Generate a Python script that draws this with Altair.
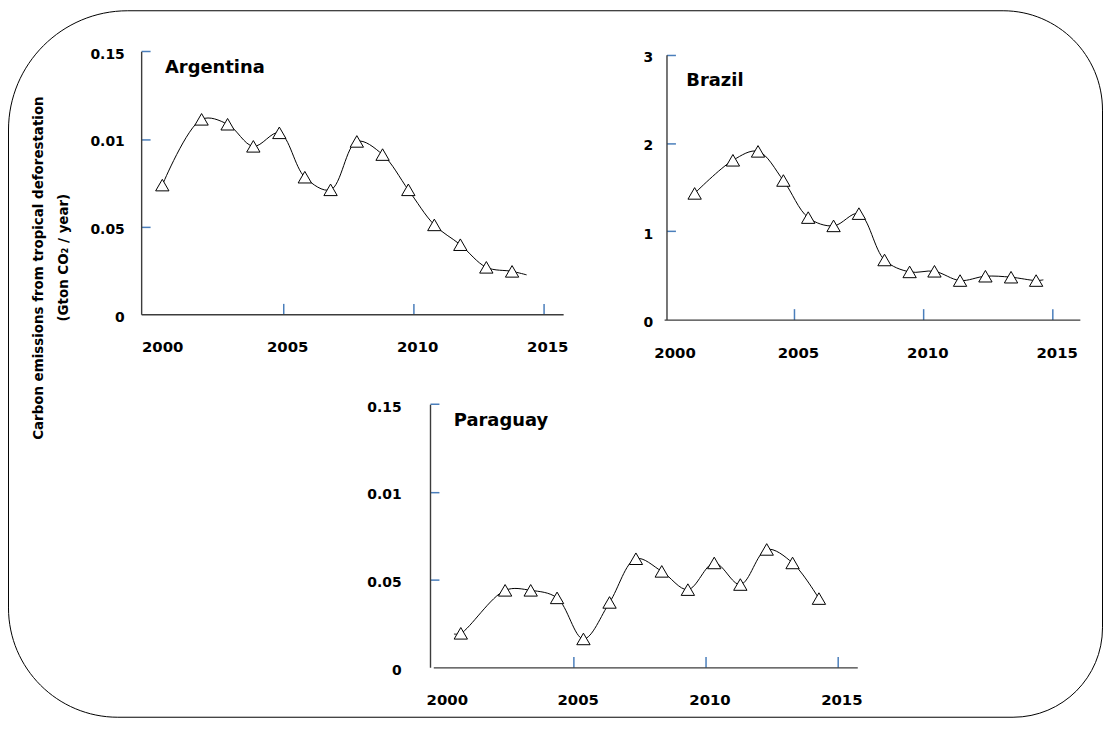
import altair as alt
import pandas as pd

# ---------------- data ----------------
ARG_YEARS = [2000.35, 2001.86, 2002.86, 2003.85, 2004.85, 2005.83, 2006.82,
             2007.83, 2008.82, 2009.81, 2010.81, 2011.81, 2012.81, 2013.80]
ARG_VALUES = [0.0737, 0.1112, 0.1084, 0.0958, 0.1035, 0.0782, 0.0710,
              0.0986, 0.0911, 0.0710, 0.0510, 0.0397, 0.0268, 0.0245]
ARG_LINE_END = (2014.36, 0.0225)

BRA_YEARS = [2001.16, 2002.64, 2003.61, 2004.59, 2005.55, 2006.53, 2007.51,
             2008.50, 2009.47, 2010.43, 2011.42, 2012.40, 2013.39, 2014.36]
BRA_VALUES = [1.429, 1.804, 1.905, 1.575, 1.155, 1.061, 1.200,
              0.675, 0.540, 0.547, 0.442, 0.491, 0.480, 0.442]
BRA_LINE_END = (2014.64, 0.450)

PAR_YEARS = [2000.72, 2002.40, 2003.37, 2004.37, 2005.37, 2006.36, 2007.36,
             2008.34, 2009.33, 2010.33, 2011.32, 2012.32, 2013.30, 2014.30]
PAR_VALUES = [0.0194, 0.0439, 0.0439, 0.0396, 0.0162, 0.0370, 0.0619,
              0.0547, 0.0443, 0.0595, 0.0472, 0.0672, 0.0595, 0.0392]
PAR_LINE_START = (2000.46, 0.0190)

X_TICKS = [2000, 2005, 2010, 2015]
X_LABELS = ["2000", "2005", "2010", "2015"]
SMALL_Y_TICKS = [0, 0.05, 0.1, 0.15]
SMALL_Y_LABELS = ["0", "0.05", "0.01", "0.15"]
BRA_Y_TICKS = [0, 1, 2, 3]
BRA_Y_LABELS = ["0", "1", "2", "3"]

TITLES = ["Argentina", "Brazil", "Paraguay"]
Y_TITLE_1 = "Carbon emissions from tropical deforestation"
Y_TITLE_2 = "(Gton CO\u2082 / year)"

# ---------------- styling ----------------
W, H = 1102, 712
FONT = "DejaVu Sans"
TITLE_FONT = "Liberation Sans Narrow, DejaVu Sans Condensed, Lato, sans-serif"
TICK_BLUE = "#4a7ebb"
AXIS_GRAY = "#3c3c3c"


def label_expr(values, labels):
    expr = "datum.label"
    for v, l in zip(values, labels):
        expr = f"datum.value == {v} ? '{l}' : ({expr})"
    return expr


def x_axis(offset, pad, off_first, off_other):
    return alt.Axis(
        orient="top", offset=offset, values=X_TICKS,
        labelExpr=label_expr(X_TICKS, X_LABELS),
        tickColor={"condition": {"test": f"datum.value == {X_TICKS[0]}", "value": "transparent"},
                   "value": TICK_BLUE},
        tickSize=11, tickWidth=1.5,
        domainColor=AXIS_GRAY, domainWidth=1.4,
        labelFont=FONT, labelFontSize=15, labelFontWeight="bold", labelColor="black",
        labelBaseline="middle", labelAlign="center", labelPadding=pad,
        labelOffset={"condition": {"test": f"datum.value == {X_TICKS[0]}", "value": off_first},
                     "value": off_other},
        labelFlush=False, labelOverlap=False, grid=False, title=None,
    )


def y_axis(offset, pad, values, labels):
    return alt.Axis(
        orient="right", offset=offset, values=values,
        labelExpr=label_expr(values, labels),
        tickColor={"condition": {"test": "datum.value == 0", "value": "transparent"},
                   "value": TICK_BLUE},
        tickSize=9, tickWidth=1.5,
        domainColor=AXIS_GRAY, domainWidth=1.4,
        labelFont=FONT, labelFontSize=14, labelFontWeight="bold", labelColor="black",
        labelBaseline="middle", labelAlign="right", labelPadding=pad, labelOffset=3,
        labelFlush=False, labelOverlap=False, grid=False, title=None,
    )


def panel(years, values, line_years, line_values, xdom, xrange, ydom, yrange,
          xaxis, yaxis, title, tx, ty):
    pts = pd.DataFrame({"year": years, "value": values})
    ln = pd.DataFrame({"year": line_years, "value": line_values})
    x = alt.X("year:Q", scale=alt.Scale(domain=xdom, range=xrange, nice=False, zero=False), axis=xaxis)
    y = alt.Y("value:Q", scale=alt.Scale(domain=ydom, range=yrange, nice=False, zero=False), axis=yaxis)
    line = alt.Chart(ln).mark_line(interpolate="catmull-rom", color="black", strokeWidth=1).encode(x=x, y=y)
    marks = alt.Chart(pts).mark_point(shape="triangle-up", size=180, filled=True, fill="white",
                                      stroke="black", strokeWidth=1, opacity=1).encode(x=x, y=y)
    label = alt.Chart(pd.DataFrame({"t": [title]})).mark_text(
        font=FONT, fontSize=18, fontWeight="bold", color="black", align="left", baseline="alphabetic"
    ).encode(text="t:N", x=alt.value(tx), y=alt.value(ty))
    return alt.layer(line, marks, label)


arg = panel(ARG_YEARS, ARG_VALUES, ARG_YEARS + [ARG_LINE_END[0]], ARG_VALUES + [ARG_LINE_END[1]],
            [1999.536, 2015.764], [134, 558.7], [0, 0.15], [306, 41.3],
            x_axis(-306, -43, 9, 4), y_axis(134 - W, -26, SMALL_Y_TICKS, SMALL_Y_LABELS),
            TITLES[0], 158, 62.7)

bra = panel(BRA_YEARS, BRA_VALUES, BRA_YEARS + [BRA_LINE_END[0]], BRA_VALUES + [BRA_LINE_END[1]],
            [1999.98, 2016.05], [660.3, 1078.7], [0, 3], [311.3, 44.7],
            x_axis(-311.3, -44, 10, 4), y_axis(662.7 - W, -23, BRA_Y_TICKS, BRA_Y_LABELS),
            TITLES[1], 682.7, 76)

par = panel(PAR_YEARS, PAR_VALUES, [PAR_LINE_START[0]] + PAR_YEARS, [PAR_LINE_START[1]] + PAR_VALUES,
            [1999.676, 2015.754], [428, 854.7], [0, 0.15], [661.3, 396.4],
            x_axis(-661.3, -43, 5, 4), y_axis(424.7 - W, -38, SMALL_Y_TICKS, SMALL_Y_LABELS),
            TITLES[2], 448.7, 418.7)

one = pd.DataFrame({"a": [0]})
frame = alt.Chart(one).mark_rect(
    fill="transparent", stroke="black", strokeWidth=1,
    cornerRadiusTopLeft=120, cornerRadiusTopRight=100,
    cornerRadiusBottomLeft=110, cornerRadiusBottomRight=90,
).encode(x=alt.value(0.5), x2=alt.value(W - 0.5), y=alt.value(0.5), y2=alt.value(H - 0.5))

yt1 = alt.Chart(pd.DataFrame({"t": [Y_TITLE_1]})).mark_text(
    font=TITLE_FONT, fontSize=15, fontWeight="bold", color="black", angle=270,
    align="center", baseline="middle",
).encode(text="t:N", x=alt.value(30), y=alt.value(259.5))
yt2 = alt.Chart(pd.DataFrame({"t": [Y_TITLE_2]})).mark_text(
    font=TITLE_FONT, fontSize=15, fontWeight="bold", color="black", angle=270,
    align="center", baseline="middle",
).encode(text="t:N", x=alt.value(55), y=alt.value(249))

chart = alt.layer(frame, yt1, yt2, arg, bra, par).resolve_scale(
    x="independent", y="independent"
).resolve_axis(x="independent", y="independent").properties(
    width=W, height=H, autosize=alt.AutoSizeParams(type="none"), padding=0,
).configure_view(stroke=None)

chart.save("out.html", embed_options={"renderer": "svg", "actions": False})
